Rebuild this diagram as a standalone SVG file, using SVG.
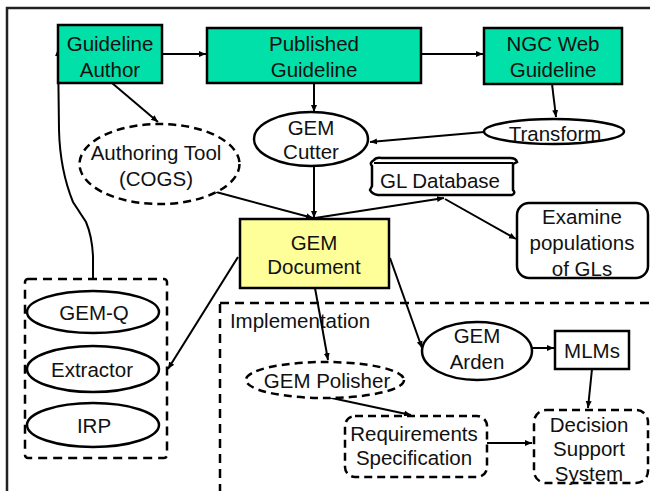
<svg xmlns="http://www.w3.org/2000/svg" width="650" height="491" viewBox="0 0 650 491">
<style>
text{font-family:"Liberation Sans",Arial,sans-serif;font-size:20.5px;fill:#111;text-anchor:middle;dominant-baseline:central}
.g{fill:#00E0A8;stroke:#000;stroke-width:2.5}
.y{fill:#FFFF99;stroke:#000;stroke-width:2.5}
.s{fill:#fff;stroke:#000;stroke-width:2.5}
.d{fill:#fff;stroke:#000;stroke-width:2.5;stroke-dasharray:8,5}
.dn{fill:none;stroke:#000;stroke-width:2.5;stroke-dasharray:9,6}
.c{fill:none;stroke:#000;stroke-width:2;marker-end:url(#ah)}
.cn{fill:none;stroke:#000;stroke-width:2}
</style>
<defs>
<marker id="ah" markerWidth="8" markerHeight="8" refX="7" refY="4" orient="auto" markerUnits="userSpaceOnUse">
<path d="M0,1 L7,4 L0,7 Z" fill="#000"/>
</marker>
</defs>
<rect x="0" y="0" width="650" height="491" fill="#fff"/>
<rect x="7" y="8" width="680" height="520" fill="none" stroke="#222" stroke-width="2.5"/>

<g id="implementation">
<rect class="dn" x="220" y="303" width="460" height="220"/>
<text x="300" y="320">Implementation</text>
</g>
<g id="tools-group">
<rect class="dn" x="25" y="279" width="142" height="179" rx="3"/>
</g>

<g id="connectors">
<path class="c" d="M162,54 L206,54"/>
<path class="c" d="M421,54 L483,54"/>
<path class="c" d="M112,83 L158,122"/>
<path class="c" d="M314,83 L314,112"/>
<path class="c" d="M552,84 L556,117"/>
<path class="c" d="M484,132 L370,142"/>
<path class="c" d="M314,166 L314,218"/>
<path class="c" d="M216,192 L313,218"/>
<path class="c" d="M315,218 L444,198"/>
<path class="c" d="M445,199 L516,239"/>
<path class="c" d="M93,278 L93,256 Q92,236 86,222 L73,202 Q60,170 59,130 L58,49"/>
<path class="c" d="M238,257 L168,369"/>
<path class="c" d="M315,288 L328,360"/>
<path class="c" d="M390,258 L422,348"/>
<path class="c" d="M532,348 L554,348"/>
<path class="c" d="M592,369 L588,408"/>
<path class="c" d="M327,397 L411,415"/>
<path class="c" d="M487,443 L532,443"/>
</g>

<g id="guideline-author">
<rect class="g" x="58" y="25" width="104" height="58"/>
<text x="110" y="43">Guideline</text>
<text x="110" y="69">Author</text>
</g>
<g id="published-guideline">
<rect class="g" x="207" y="28" width="214" height="55"/>
<text x="314" y="43">Published</text>
<text x="314" y="69">Guideline</text>
</g>
<g id="ngc-web-guideline">
<rect class="g" x="484" y="28" width="138" height="56"/>
<text x="553" y="43">NGC Web</text>
<text x="553" y="69">Guideline</text>
</g>
<g id="gem-cutter">
<ellipse class="s" cx="311" cy="139" rx="57" ry="27"/>
<text x="311" y="127">GEM</text>
<text x="311" y="151">Cutter</text>
</g>
<g id="transform">
<ellipse class="s" cx="554" cy="131.5" rx="70" ry="12.5"/>
<text x="555" y="133">Transform</text>
</g>
<g id="authoring-tool">
<ellipse class="d" cx="159.5" cy="164" rx="80" ry="40"/>
<text x="156" y="152">Authoring Tool</text>
<text x="156" y="178">(COGS)</text>
</g>
<g id="gl-database">
<path class="s" d="M374,160 Q376,157 382,158 L510,158 Q516,158 517,162 L513,164 L513,190 Q516,193 512,195 L378,195 Q372,194 370,190 L372,186 L372,166 Q369,163 374,160 Z"/>
<path class="cn" d="M374,163 L513,163"/>
<text x="440" y="180">GL Database</text>
</g>
<g id="examine">
<rect class="s" x="517" y="203" width="131" height="75" rx="12"/>
<text x="582" y="216">Examine</text>
<text x="582" y="242">populations</text>
<text x="582" y="268">of GLs</text>
</g>
<g id="gem-document">
<rect class="y" x="240" y="219" width="149" height="69"/>
<text x="314" y="242">GEM</text>
<text x="314" y="266">Document</text>
</g>
<g id="gem-q">
<ellipse class="s" cx="93" cy="312" rx="66" ry="21"/>
<text x="94" y="312">GEM-Q</text>
</g>
<g id="extractor">
<ellipse class="s" cx="93" cy="369" rx="66" ry="23"/>
<text x="92" y="369">Extractor</text>
</g>
<g id="irp">
<ellipse class="s" cx="93" cy="425" rx="66" ry="22"/>
<text x="94" y="425">IRP</text>
</g>
<g id="gem-polisher">
<ellipse class="d" cx="325" cy="380" rx="79" ry="18"/>
<text x="327" y="380">GEM Polisher</text>
</g>
<g id="requirements">
<rect class="d" x="345" y="416" width="142" height="61" rx="10"/>
<text x="414" y="433">Requirements</text>
<text x="414" y="457">Specification</text>
</g>
<g id="gem-arden">
<ellipse class="s" cx="477" cy="351" rx="55" ry="29"/>
<text x="477" y="335">GEM</text>
<text x="477" y="361">Arden</text>
</g>
<g id="mlms">
<rect class="s" x="555" y="331" width="74" height="38"/>
<text x="592" y="350">MLMs</text>
</g>
<g id="decision">
<rect class="d" x="534" y="410" width="114" height="73" rx="12"/>
<text x="589" y="424">Decision</text>
<text x="589" y="448">Support</text>
<text x="589" y="473">System</text>
</g>
</svg>
